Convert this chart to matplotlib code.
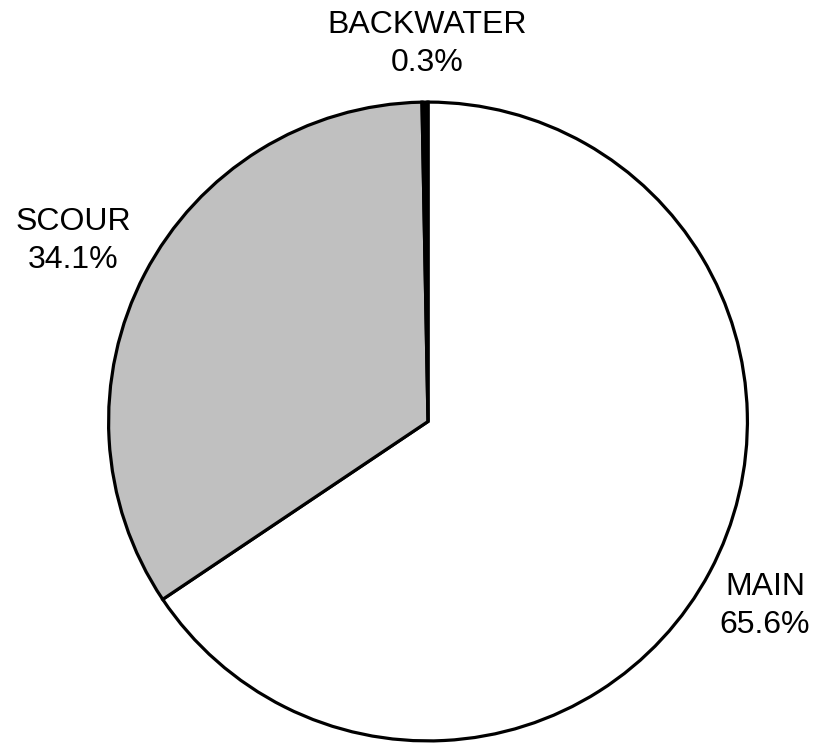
import matplotlib
matplotlib.use("Agg")
import matplotlib.pyplot as plt

categories = ["MAIN", "SCOUR", "BACKWATER"]
shares = [65.6, 34.1, 0.3]
colors = ["#ffffff", "#c0c0c0", "#000000"]

W, H, DPI = 817, 744, 100
fig = plt.figure(figsize=(W / DPI, H / DPI), dpi=DPI)
plt.rcParams["font.family"] = ["Liberation Sans", "DejaVu Sans"]

cx, cy, r = 428, 421.5, 321
ax = fig.add_axes([(cx - r) / W, (H - cy - r) / H, 2 * r / W, 2 * r / H])
ax.pie(shares, colors=colors, startangle=90, counterclock=False,
       radius=1.0, wedgeprops=dict(edgecolor="black", linewidth=2.3))
ax.set_xlim(-1.005, 1.005)
ax.set_ylim(-1.005, 1.005)
ax.set_aspect("equal")
ax.axis("off")

label_pos = {"MAIN": (765, 606), "SCOUR": (73, 241), "BACKWATER": (427, 44)}
for name, val in zip(categories, shares):
    px, py = label_pos[name]
    fig.text(px / W, 1 - py / H, f"{name}\n{val:.1f}%", ha="center", va="center",
             fontsize=23, linespacing=1.38)

fig.savefig("out.png", dpi=DPI)
